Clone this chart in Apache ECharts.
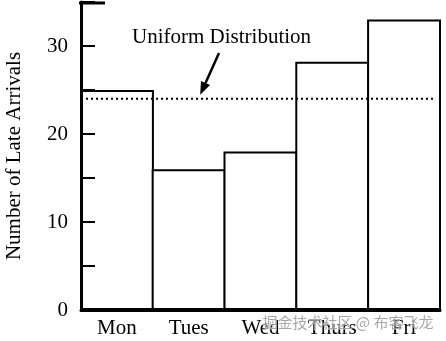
<!DOCTYPE html>
<html>
<head>
<meta charset="utf-8">
<script src="https://cdn.jsdelivr.net/npm/echarts@6/dist/echarts.min.js"></script>
<style>html,body{margin:0;padding:0;background:#fff;}#c{width:446px;height:341px;}</style>
</head>
<body>
<div id="c"></div>
<script>
var categories = ['Mon', 'Tues', 'Wed', 'Thurs', 'Fri'];
var lateArrivals = [25, 16, 18, 28.2, 33];
var uniformValue = 24;
var uniformSpan = [-0.5, 4.42];
var yTicks = [0, 10, 20, 30];
var annotationText = 'Uniform Distribution';
var watermarkText = '掘金技术社区 @ 布客飞龙';

var FONT = '"Liberation Serif", "Times New Roman", serif';
var chart = echarts.init(document.getElementById('c'));
chart.setOption({
  animation: false,
  grid: { left: 81, right: 6, top: 2, bottom: 31, containLabel: false, outerBoundsMode: 'none' },
  xAxis: [{
    type: 'category',
    data: categories,
    axisLine: { onZero: false, lineStyle: { color: '#000', width: 3 } },
    axisTick: { show: false },
    axisLabel: { color: '#000', fontFamily: FONT, fontSize: 21, margin: 8 },
    z: 5
  }, {
    type: 'value', min: -0.5, max: 4.5, show: false
  }],
  yAxis: {
    type: 'value',
    min: 0, max: 35, interval: 5,
    name: 'Number of Late Arrivals',
    nameLocation: 'middle',
    nameRotate: 90,
    nameGap: 56,
    nameTextStyle: { color: '#000', fontFamily: FONT, fontSize: 21 },
    axisLine: { show: true, onZero: false, lineStyle: { color: '#000', width: 3 } },
    axisTick: { show: true, inside: true, length: 14, lineStyle: { color: '#000', width: 2 } },
    splitLine: { show: false },
    axisLabel: {
      color: '#000', fontFamily: FONT, fontSize: 21, margin: 13,
      formatter: function (v) { return yTicks.indexOf(v) >= 0 ? String(v) : ''; }
    },
    z: 5
  },
  series: [{
    type: 'bar',
    data: lateArrivals,
    barWidth: 74,
    itemStyle: { color: '#fff', borderColor: '#000', borderWidth: 2 }
  }, {
    type: 'line',
    xAxisIndex: 1,
    data: [[uniformSpan[0], uniformValue], [uniformSpan[1], uniformValue]],
    symbol: 'none',
    silent: true,
    z: 6,
    lineStyle: { color: '#000', type: [2, 3], width: 2 }
  }]
});

var tip = chart.convertToPixel({ xAxisIndex: 1, yAxisIndex: 0 }, [1.16, uniformValue]);
var top35 = chart.convertToPixel({ yAxisIndex: 0 }, 35);
var ax0 = chart.convertToPixel({ xAxisIndex: 1 }, -0.5);
var start = [219, 53];
var tipY = tip[1] - 4;
var dx = tip[0] - start[0], dy = tipY - start[1];
var len = Math.sqrt(dx * dx + dy * dy);
var ux = dx / len, uy = dy / len;
var hb = [tip[0] - ux * 13, tipY - uy * 13];
chart.setOption({
  graphic: [
    { type: 'line', z: 10, shape: { x1: ax0 - 2, y1: top35 + 1, x2: ax0 + 24, y2: top35 + 1 }, style: { stroke: '#000', lineWidth: 3 } },
    { type: 'text', left: 132, top: 27, style: { text: annotationText, font: '21px ' + FONT, fill: '#000' } },
    { type: 'line', shape: { x1: start[0], y1: start[1], x2: hb[0], y2: hb[1] }, style: { stroke: '#000', lineWidth: 2.5 } },
    { type: 'polygon', shape: { points: [[tip[0], tipY], [hb[0] - uy * 5, hb[1] + ux * 5], [hb[0] + uy * 5, hb[1] - ux * 5]] }, style: { fill: '#000' } },
    { type: 'text', left: 262, top: 314, z: 100, style: { text: watermarkText, font: '15px "Noto Sans CJK SC", sans-serif', fill: 'rgba(150,150,150,0.85)', stroke: 'rgba(255,255,255,0.6)', lineWidth: 1 } }
  ]
});
</script>
</body>
</html>
